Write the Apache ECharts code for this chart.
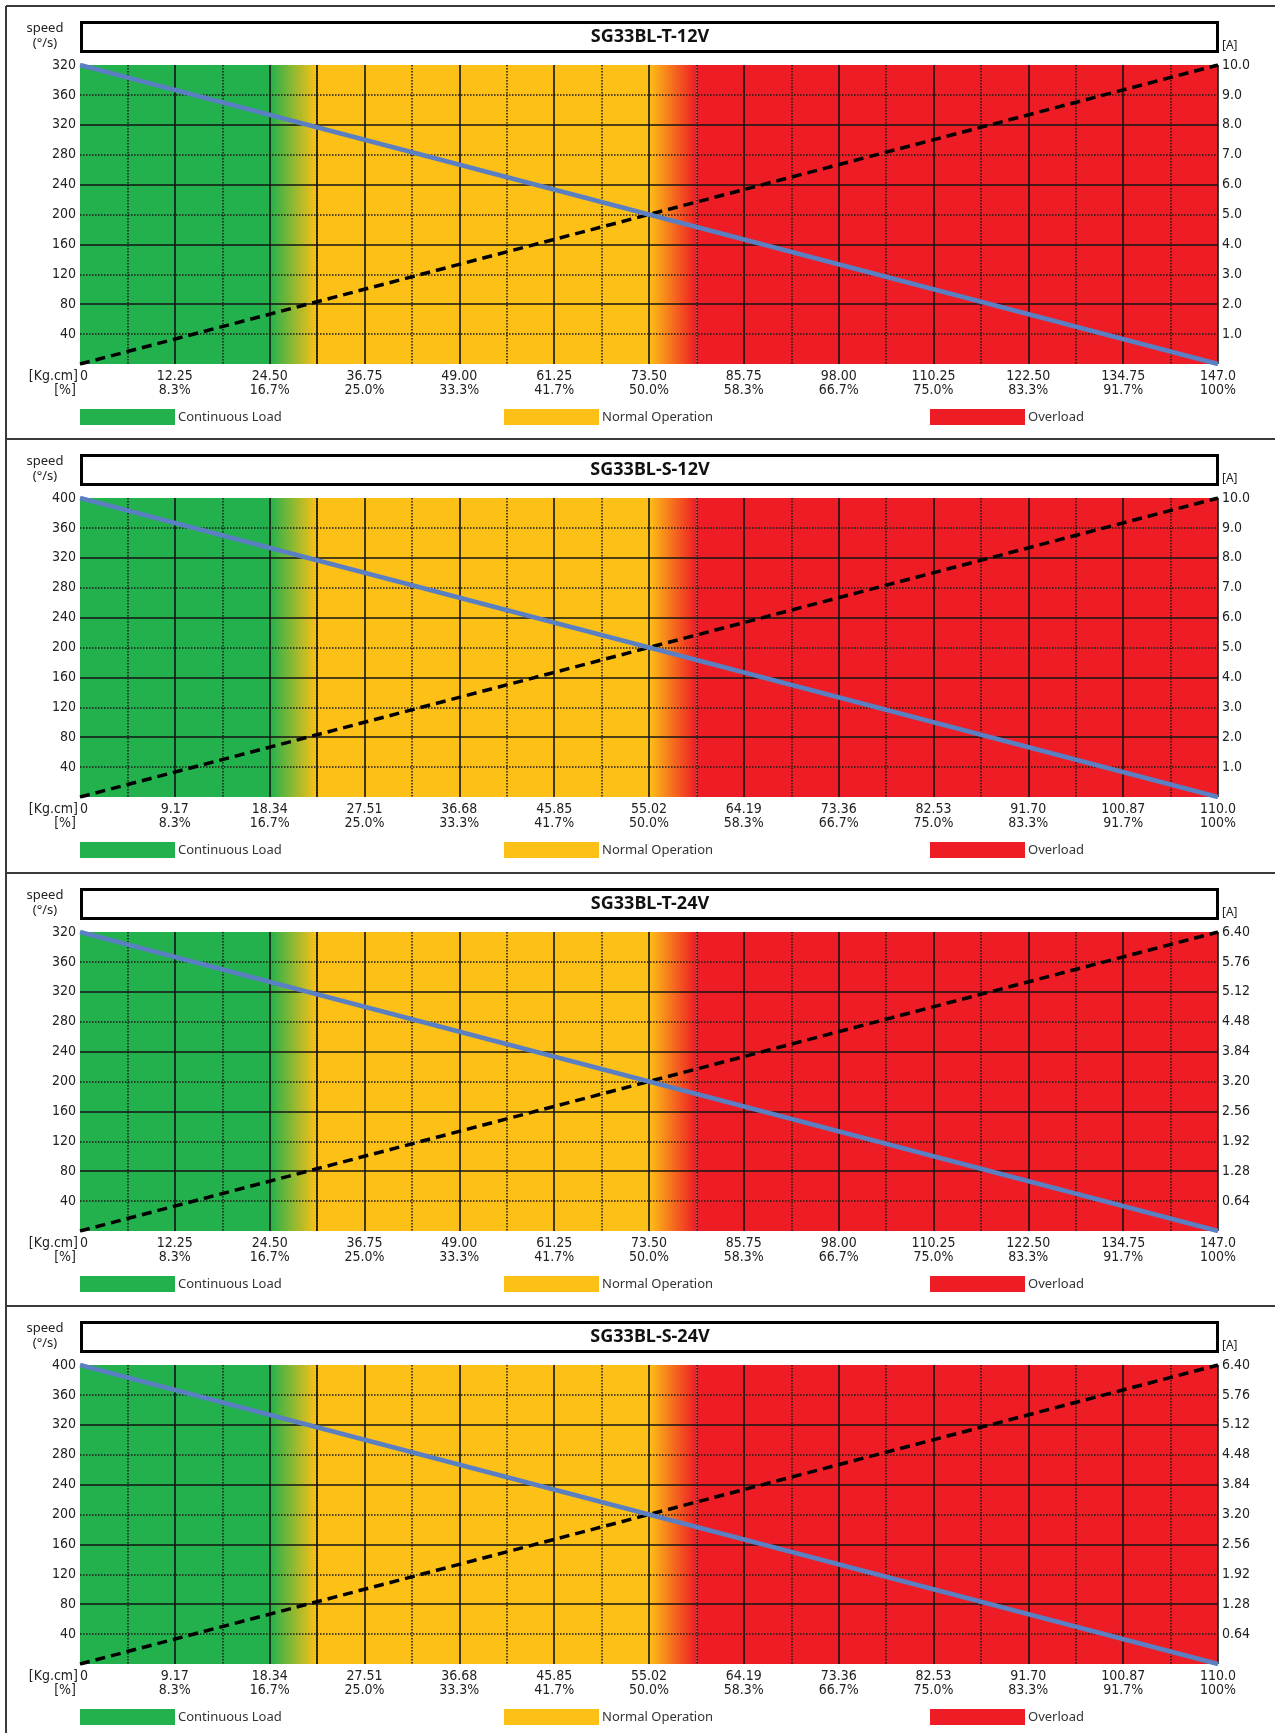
<!DOCTYPE html>
<html>
<head>
<meta charset="utf-8">
<script src="https://cdn.jsdelivr.net/npm/echarts@6/dist/echarts.min.js"></script>
<style>html,body{margin:0;padding:0;background:#fff}#c{width:1275px;height:1733px}</style>
</head>
<body>
<div id="c"></div>
<script>
// ---------------- data ----------------
const panelTitles = ['SG33BL-T-12V', 'SG33BL-S-12V', 'SG33BL-T-24V', 'SG33BL-S-24V'];
const torqueMax = [147, 110, 147, 110];
const currentMax = [10, 10, 6.4, 6.4];
const speedMax = 400;
const torqueTicksT = ['0', '12.25', '24.50', '36.75', '49.00', '61.25', '73.50', '85.75', '98.00', '110.25', '122.50', '134.75', '147.0'];
const torqueTicksS = ['0', '9.17', '18.34', '27.51', '36.68', '45.85', '55.02', '64.19', '73.36', '82.53', '91.70', '100.87', '110.0'];
const percentTicks = ['', '8.3%', '16.7%', '25.0%', '33.3%', '41.7%', '50.0%', '58.3%', '66.7%', '75.0%', '83.3%', '91.7%', '100%'];
const speedTicksT = ['', '40', '80', '120', '160', '200', '240', '280', '320', '360', '320'];
const speedTicksS = ['', '40', '80', '120', '160', '200', '240', '280', '320', '360', '400'];
const currentTicks12 = ['', '1.0', '2.0', '3.0', '4.0', '5.0', '6.0', '7.0', '8.0', '9.0', '10.0'];
const currentTicks24 = ['', '0.64', '1.28', '1.92', '2.56', '3.20', '3.84', '4.48', '5.12', '5.76', '6.40'];
const speedT = [[0, 400], [147, 0]];
const speedS = [[0, 400], [110, 0]];
const currentT12 = [[0, 0], [147, 10.0]];
const currentS12 = [[0, 0], [110, 10.0]];
const currentT24 = [[0, 0], [147, 6.4]];
const currentS24 = [[0, 0], [110, 6.4]];
// zone boundaries: continuous end, normal start, normal end, overload start
const zonesT = [24.5, 30.625, 73.5, 79.625];
const zonesS = [18.34, 22.92, 55.02, 59.6];
const zoneNames = ['Continuous Load', 'Normal Operation', 'Overload'];

const panels = [
  {title: panelTitles[0], tMax: torqueMax[0], cMax: currentMax[0], tt: torqueTicksT, st: speedTicksT, ct: currentTicks12, speed: speedT, current: currentT12, zones: zonesT},
  {title: panelTitles[1], tMax: torqueMax[1], cMax: currentMax[1], tt: torqueTicksS, st: speedTicksS, ct: currentTicks12, speed: speedS, current: currentS12, zones: zonesS},
  {title: panelTitles[2], tMax: torqueMax[2], cMax: currentMax[2], tt: torqueTicksT, st: speedTicksT, ct: currentTicks24, speed: speedT, current: currentT24, zones: zonesT},
  {title: panelTitles[3], tMax: torqueMax[3], cMax: currentMax[3], tt: torqueTicksS, st: speedTicksS, ct: currentTicks24, speed: speedS, current: currentS24, zones: zonesS}
];

// ---------------- style ----------------
const GREEN = '#22b14c', YELLOW = '#fdc016', RED = '#ee1c25', BLUE = '#5a7fc3';
const NARROW = "'Liberation Sans Narrow','DejaVu Sans Condensed','Noto Sans',sans-serif";
const FONT = "'Noto Sans','Open Sans',sans-serif";
const LABEL = '#222';
const panelTop = [6, 439, 873, 1306];
const grad = (a, b) => ({type: 'linear', x: 0, y: 0, x2: 1, y2: 0, colorStops: [{offset: 0, color: a}, {offset: 1, color: b}]});
const solidGrid = {color: '#141414', width: 1.6};
const dotGrid = {color: '#1a1a1a', width: 1.5, type: 'dotted'};

const grids = [], xAxes = [], yAxes = [], series = [], legends = [], graphics = [];

// frame lines
panelTop.forEach(T => graphics.push({type: 'line', shape: {x1: 6, y1: T, x2: 1275, y2: T}, style: {stroke: '#3a3a3a', lineWidth: 2}}));
graphics.push({type: 'line', shape: {x1: 6, y1: 6, x2: 6, y2: 1733}, style: {stroke: '#3a3a3a', lineWidth: 2}});

panels.forEach((p, i) => {
  const T = panelTop[i];
  const xStep = p.tMax / 12;
  const cStep = p.cMax / 10;
  grids.push({left: 80, top: T + 59, width: 1138, height: 299});
  xAxes.push({
    type: 'value', gridIndex: i, min: 0, max: p.tMax, interval: xStep,
    axisLine: {show: false}, axisTick: {show: false},
    splitLine: {show: true, showMinLine: false, showMaxLine: true, lineStyle: solidGrid},
    minorTick: {show: false, splitNumber: 2},
    minorSplitLine: {show: true, lineStyle: dotGrid},
    axisLabel: {
      margin: 5, alignMinLabel: 'left', alignMaxLabel: 'center', showMinLabel: true, showMaxLabel: true,
      formatter: v => { const k = Math.round(v / xStep); return '{a|' + p.tt[k] + '}\n{a|' + percentTicks[k] + '}'; },
      rich: {a: {fontSize: 14, lineHeight: 14, color: LABEL, fontFamily: NARROW}}
    }
  });
  yAxes.push({
    type: 'value', gridIndex: i, position: 'left', min: 0, max: speedMax, interval: 40,
    axisLine: {show: false}, axisTick: {show: false}, splitLine: {show: false},
    axisLabel: {margin: 4, fontSize: 14, color: LABEL, fontFamily: NARROW, showMaxLabel: true,
      formatter: v => p.st[Math.round(v / 40)]}
  });
  yAxes.push({
    type: 'value', gridIndex: i, position: 'right', min: 0, max: p.cMax, interval: cStep,
    axisLine: {show: false}, axisTick: {show: false}, splitLine: {show: false},
    axisLabel: {margin: 4, fontSize: 14, color: LABEL, fontFamily: NARROW, showMaxLabel: true,
      formatter: v => p.ct[Math.round(v / cStep)]}
  });
  yAxes.push({
    type: 'value', gridIndex: i, position: 'left', min: 0, max: speedMax, interval: 80,
    axisLine: {show: false}, axisTick: {show: false}, axisLabel: {show: false},
    splitLine: {show: true, showMinLine: false, showMaxLine: false, lineStyle: solidGrid},
    minorTick: {show: false, splitNumber: 2},
    minorSplitLine: {show: true, lineStyle: dotGrid}
  });
  const yi = i * 3;
  // zones
  series.push({
    type: 'line', name: zoneNames[0], xAxisIndex: i, yAxisIndex: yi, data: [], color: GREEN, silent: true,
    markArea: {silent: true, z: -1, itemStyle: {color: GREEN}, data: [[{xAxis: 0}, {xAxis: p.zones[0]}]]}
  });
  series.push({
    type: 'line', name: zoneNames[1], xAxisIndex: i, yAxisIndex: yi, data: [], color: YELLOW, silent: true,
    markArea: {silent: true, z: -1, itemStyle: {color: YELLOW}, data: [
      [{xAxis: p.zones[0], itemStyle: {color: grad(GREEN, YELLOW)}}, {xAxis: p.zones[1]}],
      [{xAxis: p.zones[1]}, {xAxis: p.zones[2]}]
    ]},
    markLine: {silent: true, z: 1, symbol: 'none', label: {show: false}, lineStyle: {color: '#141414', width: 1.6, type: 'solid'}, data: [{xAxis: p.zones[1]}]}
  });
  series.push({
    type: 'line', name: zoneNames[2], xAxisIndex: i, yAxisIndex: yi, data: [], color: RED, silent: true,
    markArea: {silent: true, z: -1, itemStyle: {color: RED}, data: [
      [{xAxis: p.zones[2], itemStyle: {color: grad(YELLOW, RED)}}, {xAxis: p.zones[3]}],
      [{xAxis: p.zones[3]}, {xAxis: p.tMax}]
    ]}
  });
  // curves
  series.push({type: 'line', xAxisIndex: i, yAxisIndex: yi + 1, data: p.current, symbol: 'none', silent: true, z: 3,
    lineStyle: {color: '#000', width: 3.5, type: [10, 6]}});
  series.push({type: 'line', xAxisIndex: i, yAxisIndex: yi, data: p.speed, symbol: 'none', silent: true, z: 4,
    lineStyle: {color: BLUE, width: 4.5}});
  // legends
  const legX = [80, 504, 930];
  zoneNames.forEach((n, k) => legends.push({
    data: [n], left: legX[k], top: T + 403, padding: 0, icon: 'rect', itemWidth: 95, itemHeight: 16,
    selectedMode: false, textStyle: {fontSize: 13, color: '#333', fontFamily: FONT, padding: [0, 0, 0, -2]}
  }));
  // texts / boxes
  graphics.push({type: 'rect', shape: {x: 81.5, y: T + 16.5, width: 1136, height: 29}, style: {fill: '#fff', stroke: '#000', lineWidth: 3}});
  graphics.push({type: 'text', x: 650, y: T + 31, style: {text: p.title, fill: '#111', font: "bold 18px 'Noto Sans','Open Sans',sans-serif", textAlign: 'center', textVerticalAlign: 'middle'}});
  graphics.push({type: 'text', x: 45, y: T + 22, style: {text: 'speed', fill: '#222', font: "13px 'Noto Sans',sans-serif", textAlign: 'center', textVerticalAlign: 'middle'}});
  graphics.push({type: 'text', x: 45, y: T + 37, style: {text: '(°/s)', fill: '#222', font: "13px 'Noto Sans',sans-serif", textAlign: 'center', textVerticalAlign: 'middle'}});
  graphics.push({type: 'text', x: 1222, y: T + 40, style: {text: '[A]', fill: '#222', font: "12px 'Noto Sans',sans-serif", textAlign: 'left', textVerticalAlign: 'middle'}});
  graphics.push({type: 'text', x: 78, y: T + 370, style: {text: '[Kg.cm]', fill: LABEL, font: "14px " + NARROW, textAlign: 'right', textVerticalAlign: 'middle'}});
  graphics.push({type: 'text', x: 76, y: T + 384, style: {text: '[%]', fill: LABEL, font: "14px " + NARROW, textAlign: 'right', textVerticalAlign: 'middle'}});
});

const chart = echarts.init(document.getElementById('c'), null, {renderer: 'canvas'});
chart.setOption({
  backgroundColor: '#fff',
  animation: false,
  grid: grids,
  xAxis: xAxes,
  yAxis: yAxes,
  legend: legends,
  series: series,
  graphic: graphics
});
</script>
</body>
</html>
